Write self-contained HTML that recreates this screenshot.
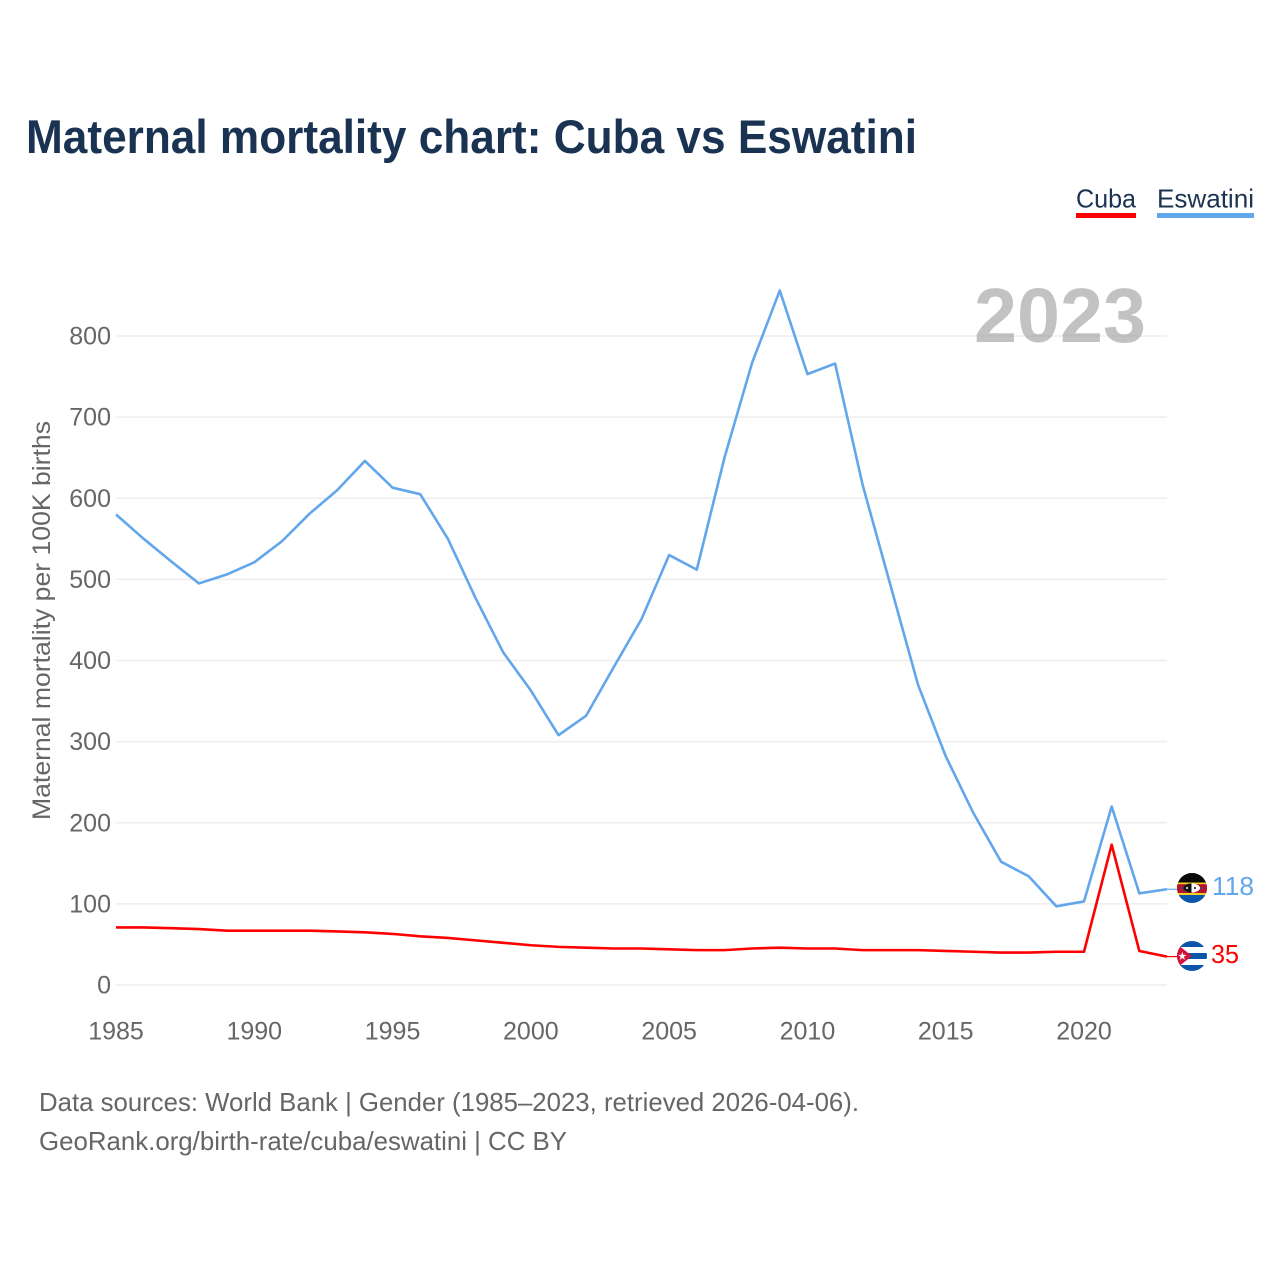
<!DOCTYPE html>
<html lang="en">
<head>
<meta charset="utf-8">
<title>Maternal mortality chart: Cuba vs Eswatini</title>
<style>
html,body{margin:0;padding:0;background:#fff;width:1280px;height:1280px;overflow:hidden}
svg{display:block;font-family:"Liberation Sans",sans-serif}
</style>
</head>
<body>
<svg id="chart" width="1280" height="1280" viewBox="0 0 1280 1280" xmlns="http://www.w3.org/2000/svg">
<defs>
<clipPath id="flag-clip-e"><circle cx="1192" cy="888" r="15"/></clipPath>
<clipPath id="flag-clip-c"><circle cx="1192" cy="956" r="15"/></clipPath>
</defs>
<text x="26" y="153" font-size="47" font-weight="700" fill="#1a3352" textLength="891" lengthAdjust="spacingAndGlyphs">Maternal mortality chart: Cuba vs Eswatini</text>

<g>
<g>
<text x="1076" y="207.5" font-size="26" fill="#1a3352" textLength="60" lengthAdjust="spacingAndGlyphs">Cuba</text>
<rect x="1076" y="213" width="60" height="5" fill="#ff0000"/>
</g>
<g>
<text x="1157" y="207.5" font-size="26" fill="#1a3352" textLength="97" lengthAdjust="spacingAndGlyphs">Eswatini</text>
<rect x="1157" y="213" width="97" height="5" fill="#62a6ec"/>
</g>
</g>

<g id="grid"></g>
<g id="yticks"></g>
<g id="xticks"></g>

<text transform="translate(50,820) rotate(-90)" x="0" y="0" font-size="25" fill="#666666" textLength="399" lengthAdjust="spacingAndGlyphs">Maternal mortality per 100K births</text>

<text x="974" y="342" font-size="77" font-weight="700" fill="#999999" fill-opacity="0.6" textLength="172" lengthAdjust="spacingAndGlyphs">2023</text>

<g id="series"></g>

<g clip-path="url(#flag-clip-e)">
<rect x="1177" y="873" width="30" height="30" fill="#0b55ab"/>
<rect x="1177" y="873" width="30" height="9.5" fill="#0a0a0a"/>
<rect x="1177" y="882.5" width="30" height="12.5" fill="#f7d020"/>
<rect x="1177" y="884.2" width="30" height="8.8" fill="#b3122c"/>
<rect x="1181" y="887.6" width="22" height="1" fill="#2a5db0"/>
<ellipse cx="1191.5" cy="888" rx="8.5" ry="4.6" fill="#fff"/>
<path d="M1191.5 883.4 A8.5 4.6 0 0 0 1191.5 892.6Z" fill="#111"/>
<circle cx="1187" cy="888" r="1" fill="#fff"/>
<circle cx="1195" cy="888" r="1" fill="#111"/>
</g>
<g clip-path="url(#flag-clip-c)">
<rect x="1177" y="941" width="30" height="30" fill="#fff"/>
<rect x="1177" y="941" width="30" height="6" fill="#0b55ab"/>
<rect x="1177" y="953" width="30" height="6" fill="#0b55ab"/>
<rect x="1177" y="965" width="30" height="6" fill="#0b55ab"/>
<path d="M1173 941 L1192 956 L1173 971Z" fill="#d2143a"/>
<path d="M1182.3 951.8 L1183.3 954.9 L1186.5 954.9 L1183.9 956.8 L1184.9 959.9 L1182.3 958 L1179.7 959.9 L1180.7 956.8 L1178.1 954.9 L1181.3 954.9Z" fill="#fff"/>
</g>

<text x="1212" y="895" font-size="26" fill="#62a6ec" textLength="42" lengthAdjust="spacingAndGlyphs">118</text>
<text x="1211" y="963" font-size="26" fill="#ff0000" textLength="28" lengthAdjust="spacingAndGlyphs">35</text>

<g>
<text x="39" y="1111" font-size="26" fill="#666666" textLength="820" lengthAdjust="spacingAndGlyphs">Data sources: World Bank | Gender (1985–2023, retrieved 2026-04-06).</text>
<text x="39" y="1150" font-size="26" fill="#666666" textLength="528" lengthAdjust="spacingAndGlyphs">GeoRank.org/birth-rate/cuba/eswatini | CC BY</text>
</g>
</svg>
<script>
const years = [1985,1986,1987,1988,1989,1990,1991,1992,1993,1994,1995,1996,1997,1998,1999,2000,2001,2002,2003,2004,2005,2006,2007,2008,2009,2010,2011,2012,2013,2014,2015,2016,2017,2018,2019,2020,2021,2022,2023];
const eswatiniValues = [580,550,522,495,506,521,547,581,610,646,613,605,550,477,410,363,308,332,392,451,530,512,650,767,856,753,766,616,493,370,282,212,152,134,97,103,220,113,118];
const cubaValues = [71,71,70,69,67,67,67,67,66,65,63,60,58,55,52,49,47,46,45,45,44,43,43,45,46,45,45,43,43,43,42,41,40,40,41,41,173,42,35];
const yTickValues = [0,100,200,300,400,500,600,700,800];
const xTickValues = [1985,1990,1995,2000,2005,2010,2015,2020];

const NS = 'http://www.w3.org/2000/svg';
const xScale = function (year) { return 116 + (year - 1985) * (1084 - 116) / 35; };
const yScale = function (value) { return 985 - value * 0.81125; };

function make(tag, parent) {
  const el = document.createElementNS(NS, tag);
  parent.appendChild(el);
  return el;
}

const grid = document.getElementById('grid');
const yticks = document.getElementById('yticks');
const xticks = document.getElementById('xticks');
const series = document.getElementById('series');

yTickValues.forEach(function (v) {
  const line = make('line', grid);
  
  
  line.setAttribute('x1', 116);
  line.setAttribute('x2', 1167);
  line.setAttribute('y1', yScale(v));
  line.setAttribute('y2', yScale(v));
  line.setAttribute('stroke', '#eeeeee');
  line.setAttribute('stroke-width', 1.5);
  const t = make('text', yticks);
  
  
  t.setAttribute('x', 111);
  t.setAttribute('y', yScale(v) + 8.5);
  t.setAttribute('text-anchor', 'end');
  t.setAttribute('font-size', 25);
  t.setAttribute('fill', '#666666');
  t.textContent = v;
});

xTickValues.forEach(function (v) {
  const t = make('text', xticks);
  
  
  t.setAttribute('x', xScale(v));
  t.setAttribute('y', 1039.5);
  t.setAttribute('text-anchor', 'middle');
  t.setAttribute('font-size', 25);
  t.setAttribute('fill', '#666666');
  t.textContent = v;
});

function drawSeries(values, color, name) {
  const pts = values.map(function (v, i) { return xScale(years[i]).toFixed(2) + ',' + yScale(v).toFixed(2); }).join(' ');
  const line = make('polyline', series);
  
  
  line.setAttribute('points', pts);
  line.setAttribute('fill', 'none');
  line.setAttribute('stroke', color);
  line.setAttribute('stroke-width', 2.6);
  line.setAttribute('stroke-linejoin', 'round');
  const last = values[values.length - 1];
  const conn = make('line', series);
  
  
  conn.setAttribute('x1', xScale(years[years.length - 1]));
  conn.setAttribute('y1', yScale(last));
  conn.setAttribute('x2', 1178);
  conn.setAttribute('y2', yScale(last));
  conn.setAttribute('stroke', color);
  conn.setAttribute('stroke-width', 1.2);
}
drawSeries(eswatiniValues, '#62a6ec', 'eswatini-line');
drawSeries(cubaValues, '#ff0000', 'cuba-line');
</script>
</body>
</html>
